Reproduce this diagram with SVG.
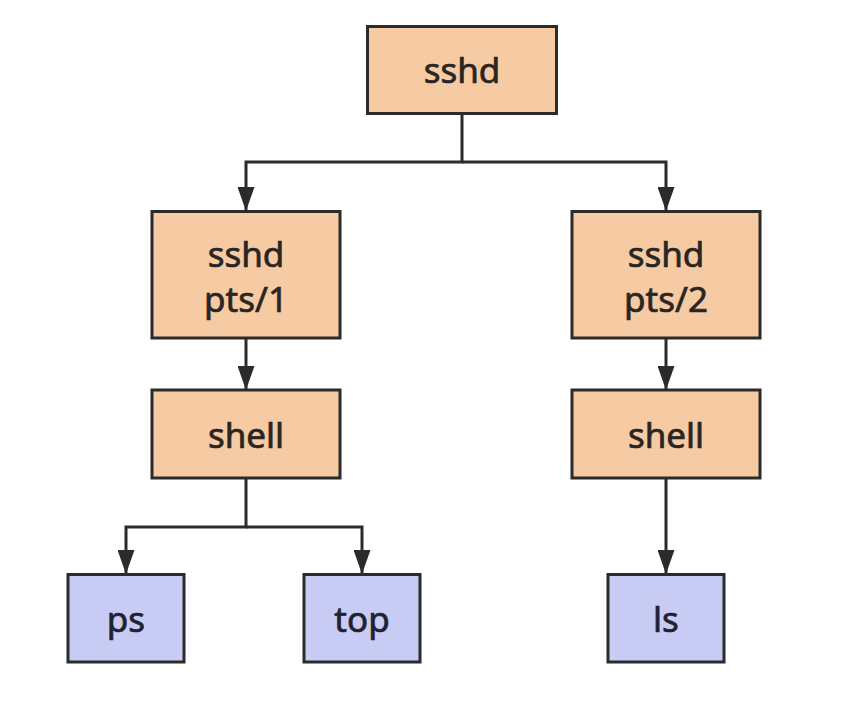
<svg xmlns="http://www.w3.org/2000/svg" width="852" height="704" viewBox="0 0 852 704">
<defs>
<style>
.a{fill:#f6caa2;stroke:#2b2b2b;stroke-width:3}
.b{fill:#c8ccf5;stroke:#2b2b2b;stroke-width:3}
.t{font-family:"Noto Sans","Open Sans",sans-serif;font-size:35px;fill:#2a2522;stroke:#2a2522;stroke-width:0.7;text-anchor:middle}
.tb{fill:#1f2233;stroke:#1f2233}
.e{fill:none;stroke:#2b2b2b;stroke-width:3}
</style>
<marker id="ah" viewBox="0 0 24 17" refX="23" refY="8.5" markerWidth="24" markerHeight="17" markerUnits="userSpaceOnUse" orient="auto">
<path d="M0,0 L24,8.5 L0,17 z" fill="#2b2b2b"/>
</marker>
</defs>
<rect width="852" height="704" fill="#ffffff"/>
<g id="connectors">
<path class="e" d="M462,113 V162 H246 V210" marker-end="url(#ah)"/>
<path class="e" d="M462,162 H666 V210" marker-end="url(#ah)"/>
<path class="e" d="M246,338 V389" marker-end="url(#ah)"/>
<path class="e" d="M666,338 V389" marker-end="url(#ah)"/>
<path class="e" d="M246,478 V527 H126 V573" marker-end="url(#ah)"/>
<path class="e" d="M246,527 H362 V573" marker-end="url(#ah)"/>
<path class="e" d="M666,478 V573" marker-end="url(#ah)"/>
</g>
<g id="sshd">
<rect class="a" x="367.5" y="26.5" width="189" height="87"/>
<text class="t" x="462" y="83">sshd</text>
</g>
<g id="sshd_pts1">
<rect class="a" x="152" y="211.5" width="188" height="126.5"/>
<text class="t" x="246" y="267">sshd</text>
<text class="t" x="246" y="312">pts/1</text>
</g>
<g id="sshd_pts2">
<rect class="a" x="572" y="211.5" width="188" height="126.5"/>
<text class="t" x="666" y="267">sshd</text>
<text class="t" x="666" y="312">pts/2</text>
</g>
<g id="shell1">
<rect class="a" x="152" y="390" width="188" height="88"/>
<text class="t" x="246" y="448">shell</text>
</g>
<g id="shell2">
<rect class="a" x="572" y="390" width="188" height="88"/>
<text class="t" x="666" y="448">shell</text>
</g>
<g id="ps">
<rect class="b" x="68" y="574.5" width="116" height="87.5"/>
<text class="t tb" x="126" y="632">ps</text>
</g>
<g id="top">
<rect class="b" x="304" y="574.5" width="116" height="87.5"/>
<text class="t tb" x="362" y="632">top</text>
</g>
<g id="ls">
<rect class="b" x="608" y="574.5" width="116" height="87.5"/>
<text class="t tb" x="666" y="632">ls</text>
</g>
</svg>
